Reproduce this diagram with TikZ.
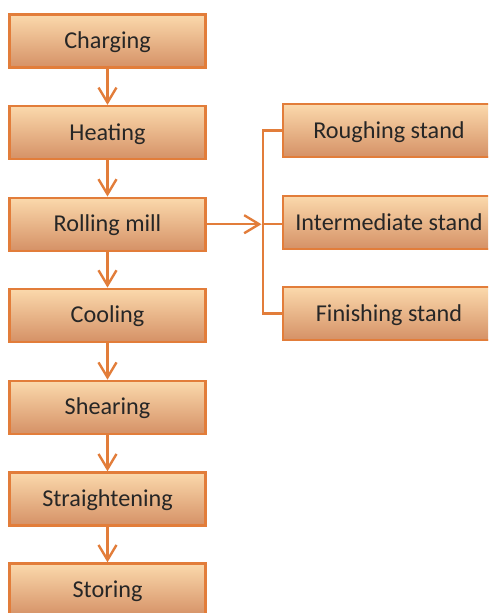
\documentclass[tikz,border=0pt]{standalone}
\usepackage{fontspec}
\setmainfont{Carlito}
\usetikzlibrary{arrows.meta}
\definecolor{boxtop}{RGB}{251,217,172}
\definecolor{boxbot}{RGB}{213,145,102}
\definecolor{boxline}{RGB}{226,125,58}
\definecolor{txt}{RGB}{38,38,38}
\tikzset{
  stepbox/.style={draw=boxline, line width=2.4pt, top color=boxtop, bottom color=boxbot,
    minimum width=196pt, minimum height=53pt, inner sep=0pt, text=txt,
    text height=18pt, text depth=3pt,
    font=\fontsize{24.2}{28}\selectfont},
  sidebox/.style={stepbox, minimum width=212pt},
  conn/.style={draw=boxline, line width=2.4pt},
  arr/.style={conn, -{Straight Barb[length=15pt,width=18pt,line width=2.4pt]}}
}
\begin{document}
\begin{tikzpicture}[x=1pt,y=-1pt]
\useasboundingbox (0,0) rectangle (488,613);
\clip (0,0) rectangle (488,613);
\node[stepbox] (charging) at (107.5,41) {Charging};
\node[stepbox] (heating) at (107.5,132.6) {Heating};
\node[stepbox] (rolling) at (107.5,224.2) {Rolling mill};
\node[stepbox] (cooling) at (107.5,315.3) {Cooling};
\node[stepbox] (shearing) at (107.5,407.4) {Shearing};
\node[stepbox] (straight) at (107.5,499) {Straightening};
\node[stepbox] (storing) at (107.5,590) {Storing};
\node[sidebox] (rough) at (389,130.5) {Roughing stand};
\node[sidebox] (inter) at (389,222.5) {Intermediate stand};
\node[sidebox] (finish) at (389,313.5) {Finishing stand};
\coordinate (btop) at (263,130.5);
\coordinate (bbot) at (263,313.5);
\coordinate (bmid) at (263,224.2);
\draw[arr] (charging) -- (heating);
\draw[arr] (heating) -- (rolling);
\draw[arr] (rolling) -- (cooling);
\draw[arr] (cooling) -- (shearing);
\draw[arr] (shearing) -- (straight);
\draw[arr] (straight) -- (storing);
\draw[arr] (rolling.east) -- ([xshift=-1.5pt]bmid);
\draw[conn] (rough.west) -- (btop) -- (bbot) -- (finish.west);
\draw[conn] (bmid) -- (inter.west |- bmid);
\end{tikzpicture}
\end{document}
